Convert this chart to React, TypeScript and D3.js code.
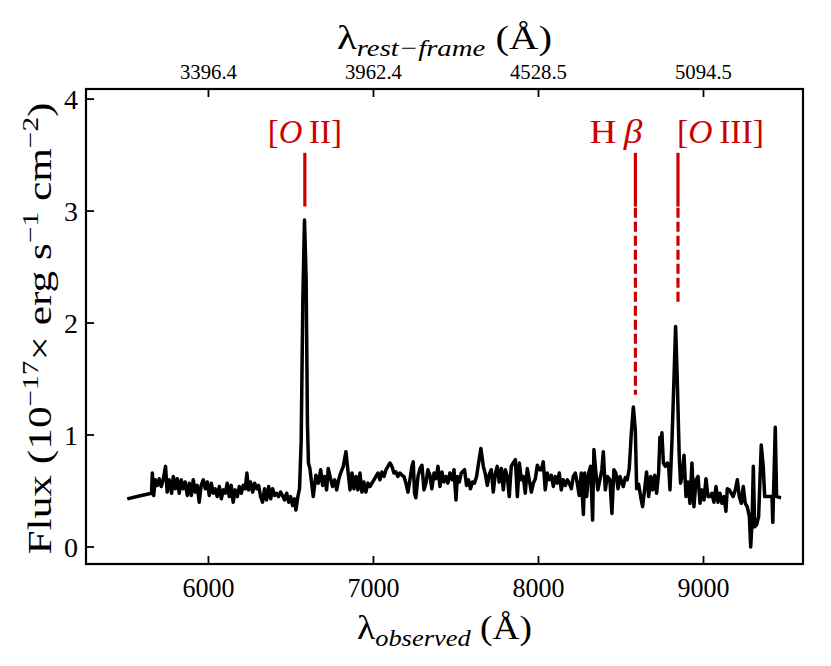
import React from "react";
import * as d3 from "d3";

// Observed wavelength (Å) and flux (1e-17 erg/s/cm^2/Å)
const WAVELENGTH: number[] = [
  5508, 5580, 5655, 5660, 5668, 5678, 5690, 5702, 5714, 5726, 5740, 5750, 5762, 5777, 5787, 5799,
  5811, 5823, 5835, 5847, 5859, 5872, 5884, 5896, 5908, 5920, 5932, 5944, 5956, 5969, 5981, 5993,
  6005, 6017, 6029, 6041, 6053, 6066, 6078, 6090, 6102, 6114, 6126, 6138, 6150, 6162, 6175, 6187,
  6199, 6211, 6223, 6233, 6243, 6255, 6268, 6280, 6292, 6304, 6316, 6328, 6340, 6352, 6365, 6377,
  6389, 6401, 6413, 6425, 6437, 6449, 6461, 6474, 6486, 6498, 6510, 6522, 6530, 6542, 6552, 6562,
  6572, 6582, 6592, 6600, 6606, 6615, 6635, 6651, 6666, 6680, 6692, 6704, 6716, 6726, 6740, 6752,
  6765, 6777, 6789, 6801, 6817, 6833, 6847, 6858, 6870, 6882, 6894, 6906, 6918, 6930, 6942, 6954,
  6967, 6979, 6991, 7003, 7015, 7027, 7039, 7051, 7064, 7076, 7088, 7100, 7112, 7124, 7136, 7148,
  7160, 7173, 7185, 7197, 7209, 7221, 7233, 7241, 7249, 7257, 7270, 7282, 7294, 7306, 7318, 7330,
  7342, 7354, 7367, 7379, 7391, 7403, 7415, 7427, 7439, 7451, 7463, 7476, 7488, 7500, 7508, 7520,
  7532, 7552, 7564, 7576, 7588, 7600, 7612, 7625, 7637, 7651, 7666, 7678, 7690, 7702, 7714, 7726,
  7738, 7750, 7762, 7775, 7787, 7799, 7811, 7823, 7835, 7847, 7860, 7872, 7884, 7896, 7908, 7920,
  7932, 7944, 7957, 7969, 7981, 7993, 8005, 8017, 8029, 8041, 8053, 8066, 8078, 8090, 8102, 8114,
  8126, 8138, 8150, 8163, 8175, 8187, 8199, 8211, 8223, 8235, 8247, 8259, 8272, 8280, 8292, 8304,
  8316, 8328, 8336, 8348, 8360, 8372, 8384, 8393, 8405, 8417, 8433, 8445, 8457, 8469, 8482, 8494,
  8506, 8514, 8526, 8538, 8550, 8562, 8575, 8587, 8595, 8607, 8619, 8631, 8643, 8655, 8668, 8680,
  8692, 8704, 8716, 8728, 8736, 8742, 8748, 8757, 8769, 8781, 8789, 8797, 8809, 8821, 8831, 8841,
  8853, 8861, 8870, 8882, 8894, 8906, 8918, 8930, 8942, 8955, 8967, 8979, 8991, 9003, 9015, 9027,
  9039, 9051, 9063, 9076, 9088, 9100, 9112, 9124, 9136, 9144, 9156, 9168, 9180, 9193, 9205, 9217,
  9229, 9241, 9253, 9265, 9278, 9286, 9294, 9302, 9310, 9322, 9334, 9350, 9362, 9371, 9415, 9420,
  9435, 9443, 9470,
];
const FLUX: number[] = [
  0.43, 0.455, 0.48, 0.66, 0.46, 0.60, 0.55, 0.61, 0.54, 0.60, 0.72, 0.49, 0.60, 0.48, 0.63, 0.52,
  0.61, 0.48, 0.60, 0.52, 0.58, 0.46, 0.57, 0.46, 0.60, 0.49, 0.55, 0.40, 0.55, 0.60, 0.52, 0.58,
  0.46, 0.57, 0.48, 0.52, 0.45, 0.54, 0.43, 0.51, 0.48, 0.57, 0.45, 0.55, 0.40, 0.51, 0.45, 0.54,
  0.48, 0.55, 0.52, 0.66, 0.51, 0.58, 0.49, 0.57, 0.52, 0.55, 0.45, 0.40, 0.52, 0.42, 0.54, 0.43,
  0.52, 0.46, 0.48, 0.45, 0.49, 0.46, 0.42, 0.48, 0.40, 0.45, 0.37, 0.43, 0.33, 0.45, 0.52, 0.95,
  2.2, 2.92, 2.4, 1.1, 0.75, 0.70, 0.45, 0.64, 0.57, 0.69, 0.55, 0.63, 0.51, 0.70, 0.61, 0.54,
  0.60, 0.51, 0.60, 0.66, 0.72, 0.85, 0.66, 0.51, 0.66, 0.52, 0.63, 0.51, 0.66, 0.49, 0.58, 0.49,
  0.57, 0.54, 0.57, 0.60, 0.63, 0.66, 0.60, 0.67, 0.63, 0.69, 0.72, 0.75, 0.72, 0.66, 0.67, 0.63,
  0.66, 0.64, 0.63, 0.57, 0.49, 0.60, 0.72, 0.76, 0.48, 0.44, 0.63, 0.70, 0.73, 0.51, 0.57, 0.69,
  0.64, 0.52, 0.66, 0.61, 0.72, 0.54, 0.67, 0.58, 0.63, 0.57, 0.66, 0.60, 0.69, 0.42, 0.63, 0.58,
  0.66, 0.69, 0.55, 0.60, 0.52, 0.58, 0.57, 0.63, 0.75, 0.88, 0.72, 0.65, 0.55, 0.65, 0.69, 0.49,
  0.65, 0.72, 0.58, 0.70, 0.51, 0.69, 0.63, 0.45, 0.72, 0.75, 0.78, 0.45, 0.75, 0.60, 0.63, 0.48,
  0.70, 0.60, 0.49, 0.57, 0.61, 0.73, 0.69, 0.69, 0.76, 0.51, 0.66, 0.60, 0.64, 0.54, 0.63, 0.57,
  0.66, 0.51, 0.60, 0.55, 0.60, 0.57, 0.52, 0.63, 0.66, 0.57, 0.46, 0.66, 0.29, 0.66, 0.45, 0.66,
  0.72, 0.24, 0.87, 0.66, 0.51, 0.60, 0.69, 0.85, 0.51, 0.63, 0.60, 0.30, 0.69, 0.66, 0.52, 0.63,
  0.57, 0.54, 0.62, 0.60, 0.70, 1.0, 1.25, 1.04, 0.52, 0.56, 0.45, 0.36, 0.51, 0.67, 0.45, 0.63,
  0.51, 0.64, 0.48, 0.66, 0.98, 0.94, 1.02, 0.75, 0.72, 0.75, 0.72, 0.51, 0.95, 1.50, 1.97, 1.50,
  0.81, 0.57, 0.63, 0.82, 0.45, 0.58, 0.39, 0.75, 0.36, 0.60, 0.63, 0.39, 0.51, 0.42, 0.61, 0.45,
  0.45, 0.48, 0.40, 0.54, 0.40, 0.48, 0.39, 0.45, 0.32, 0.52, 0.51, 0.48, 0.45, 0.51, 0.60, 0.45,
  0.39, 0.54, 0.39, 0.36, 0.27, 0.00, 0.21, 0.72, 0.18, 0.20, 0.27, 0.91, 0.72, 0.45, 0.45, 0.22,
  1.07, 0.45, 0.44,
];

const X_TICKS: number[] = [6000, 7000, 8000, 9000];
const Y_TICKS: number[] = [0, 1, 2, 3, 4];
const REST_TICKS: string[] = ["3396.4", "3962.4", "4528.5", "5094.5"];
const REDSHIFT = 0.7666;

// Emission line markers
const LINE_NAMES: string[] = ["OII", "Hbeta", "OIII"];
const LINE_REST: number[] = [3727, 4861, 5007];
const LINE_DASH_BOTTOM: (number | null)[] = [null, 1.36, 2.16];

const W = 831;
const H = 666;
const M = { left: 86, right: 28, top: 89, bottom: 102 };
const RED = "#cc0000";
const FONT = "'Liberation Serif', 'Times New Roman', serif";

export default function App() {
  const x = d3.scaleLinear().domain([5258, 9603]).range([M.left, W - M.right]);
  const y = d3.scaleLinear().domain([-0.152, 4.09]).range([H - M.bottom, M.top]);
  const pts: [number, number][] = WAVELENGTH.map((w, i) => [w, FLUX[i]]);
  const line = d3
    .line<[number, number]>()
    .x((d) => x(d[0]))
    .y((d) => y(d[1]));
  const tickLen = 8;
  const x0 = M.left;
  const x1 = W - M.right;
  const y0 = H - M.bottom;
  const y1 = M.top;

  const supSize = 23;
  return (
    <svg
      width={W}
      height={H}
      style={{ position: "absolute", left: 0, top: 0, background: "#fff" }}
      fontFamily={FONT}
    >
      <rect x={0} y={0} width={W} height={H} fill="#fff" />
      {/* spectrum */}
      <path d={line(pts) || ""} fill="none" stroke="#000" strokeWidth={3.5} strokeLinejoin="round" />

      {/* emission line markers */}
      {LINE_NAMES.map((n, i) => {
        const lx = x(LINE_REST[i] * (1 + REDSHIFT));
        const db = LINE_DASH_BOTTOM[i];
        return (
          <g key={n}>
            <line x1={lx} x2={lx} y1={y(3.52)} y2={y(3.04)} stroke={RED} strokeWidth={3.2} />
            {db !== null && (
              <line
                x1={lx}
                x2={lx}
                y1={y(3.03)}
                y2={y(db)}
                stroke={RED}
                strokeWidth={3.2}
                strokeDasharray="10,4"
              />
            )}
          </g>
        );
      })}
      <g fill={RED} fontSize={33}>
        <text
          x={x(LINE_REST[0] * (1 + REDSHIFT))}
          y={143}
          textAnchor="middle"
          textLength={74}
          lengthAdjust="spacingAndGlyphs"
        >
          [<tspan fontStyle="italic">O</tspan>{"\u2009II]"}
        </text>
        <text
          x={x(LINE_REST[1] * (1 + REDSHIFT)) + 7}
          y={143}
          textAnchor="end"
          textLength={53}
          lengthAdjust="spacingAndGlyphs"
        >
          H<tspan fontStyle="italic">{"\u2009β"}</tspan>
        </text>
        <text
          x={x(LINE_REST[2] * (1 + REDSHIFT)) - 1}
          y={143}
          textAnchor="start"
          textLength={87}
          lengthAdjust="spacingAndGlyphs"
        >
          [<tspan fontStyle="italic">O</tspan>{"\u2009III]"}
        </text>
      </g>

      {/* frame */}
      <rect x={x0} y={y1} width={x1 - x0} height={y0 - y1} fill="none" stroke="#000" strokeWidth={2.2} />

      {/* bottom axis */}
      {X_TICKS.map((t) => (
        <g key={t}>
          <line x1={x(t)} x2={x(t)} y1={y0} y2={y0 - tickLen} stroke="#000" strokeWidth={1.8} />
          <text x={x(t)} y={597} textAnchor="middle" fontSize={28} textLength={52} lengthAdjust="spacingAndGlyphs">
            {t}
          </text>
        </g>
      ))}
      {/* left axis */}
      {Y_TICKS.map((t) => (
        <g key={t}>
          <line x1={x0} x2={x0 + tickLen} y1={y(t)} y2={y(t)} stroke="#000" strokeWidth={1.8} />
          <text x={78} y={y(t) + 10} textAnchor="end" fontSize={28}>
            {t}
          </text>
        </g>
      ))}
      {/* top axis (rest-frame) */}
      {REST_TICKS.map((t) => {
        const tx = x(parseFloat(t) * (1 + REDSHIFT));
        return (
          <g key={t}>
            <line x1={tx} x2={tx} y1={y1} y2={y1 + tickLen} stroke="#000" strokeWidth={1.8} />
            <text x={tx} y={79} textAnchor="middle" fontSize={21} textLength={57} lengthAdjust="spacingAndGlyphs">
              {t}
            </text>
          </g>
        );
      })}

      {/* axis titles */}
      <text
        x={(x0 + x1) / 2}
        y={49}
        textAnchor="middle"
        fontSize={34}
        textLength={215}
        lengthAdjust="spacingAndGlyphs"
      >
        λ<tspan fontStyle="italic" fontSize={24} dy={7}>rest−frame</tspan>
        <tspan dy={-7}>{" (Å)"}</tspan>
      </text>
      <text
        x={(x0 + x1) / 2}
        y={639}
        textAnchor="middle"
        fontSize={34}
        textLength={175}
        lengthAdjust="spacingAndGlyphs"
      >
        λ<tspan fontStyle="italic" fontSize={24} dy={7}>observed</tspan>
        <tspan dy={-7}>{" (Å)"}</tspan>
      </text>
      <text
        transform={`translate(51,${(y0 + y1) / 2 + 2}) rotate(-90)`}
        textAnchor="middle"
        fontSize={34}
        textLength={452}
        lengthAdjust="spacingAndGlyphs"
      >
        {"Flux (10"}
        <tspan fontSize={supSize} dy={-13}>−17</tspan>
        <tspan dy={13}>{"× erg s"}</tspan>
        <tspan fontSize={supSize} dy={-13}>−1</tspan>
        <tspan dy={13}>{" cm"}</tspan>
        <tspan fontSize={supSize} dy={-13}>−2</tspan>
        <tspan dy={13}>{")"}</tspan>
      </text>
    </svg>
  );
}
